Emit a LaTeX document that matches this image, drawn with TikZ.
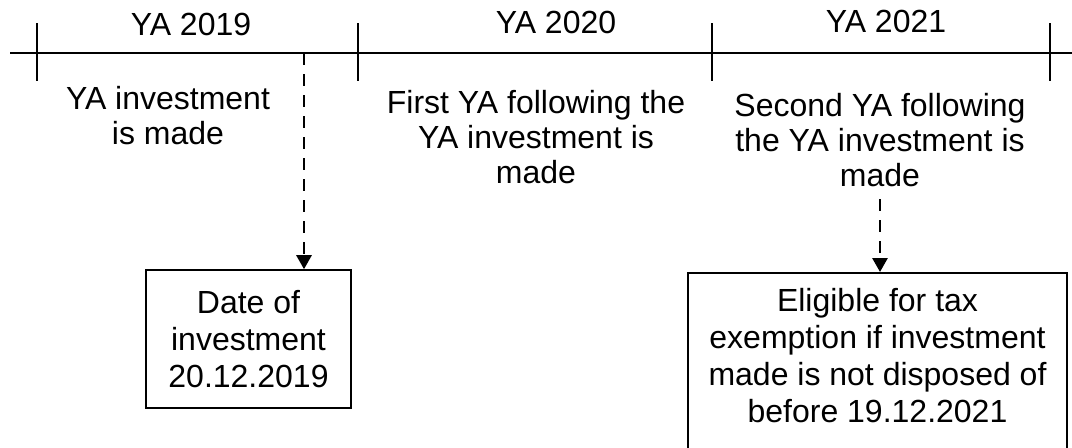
\documentclass[tikz,border=0pt]{standalone}
\usepackage{fontspec}
\setmainfont{Liberation Sans}
\usetikzlibrary{arrows.meta}

\begin{document}
\begin{tikzpicture}[
    x=0.5pt, y=-0.5pt,
    every node/.style={font=\fontsize{16}{17.5}\selectfont, align=center, inner sep=0pt},
    yearlabel/.style={anchor=base},
    note/.style={anchor=north},
    infobox/.style={draw, line width=0.8pt, font=\fontsize{16}{18.5}\selectfont},
    yeartick/.style={line width=1pt},
    pointer/.style={line width=1.4pt, dash pattern=on 6pt off 4.5pt, -{Triangle[width=7.5pt,length=7pt]}}
  ]
  \useasboundingbox (0,0) rectangle (1072,447);

  % time line
  \coordinate (start) at (10,53);
  \coordinate (end) at (1072,53);
  \draw[line width=1pt] (start) -- (end);
  \foreach \x/\n in {37/t0, 358/t1, 712/t2, 1050/t3} {
    \coordinate (\n) at (\x,53);
    \draw[yeartick] (\x,23) -- (\x,81);
  }

  % years
  \node[yearlabel] (ya19) at (191,35) {YA 2019};
  \node[yearlabel] (ya20) at (556,33) {YA 2020};
  \node[yearlabel] (ya21) at (886,32) {YA 2021};

  \node[note] (made) at (168,86) {YA investment\\is made};
  \node[note] (first) at (536,90) {First YA following the\\YA investment is\\made};
  \node[note] (second) at (880,93) {Second YA following\\the YA investment is\\made};

  % boxes
  \node[infobox, minimum width=102.5pt, minimum height=69pt] (dateinv) at (248.5,339) {Date of\\investment\\20.12.2019};
  \node[infobox, anchor=north, minimum width=189.5pt, inner ysep=7.5pt] (exempt) at (877.5,272)
    {Eligible for tax\\exemption if investment\\made is not disposed of\\before 19.12.2021\rule[-15pt]{0pt}{0pt}};

  \coordinate (invdate) at (304,53);
  \draw[pointer] (invdate) -- (invdate |- dateinv.north);
  \draw[pointer, shorten <=6pt] (second.south) -- (second.south |- exempt.north);
\end{tikzpicture}
\end{document}
